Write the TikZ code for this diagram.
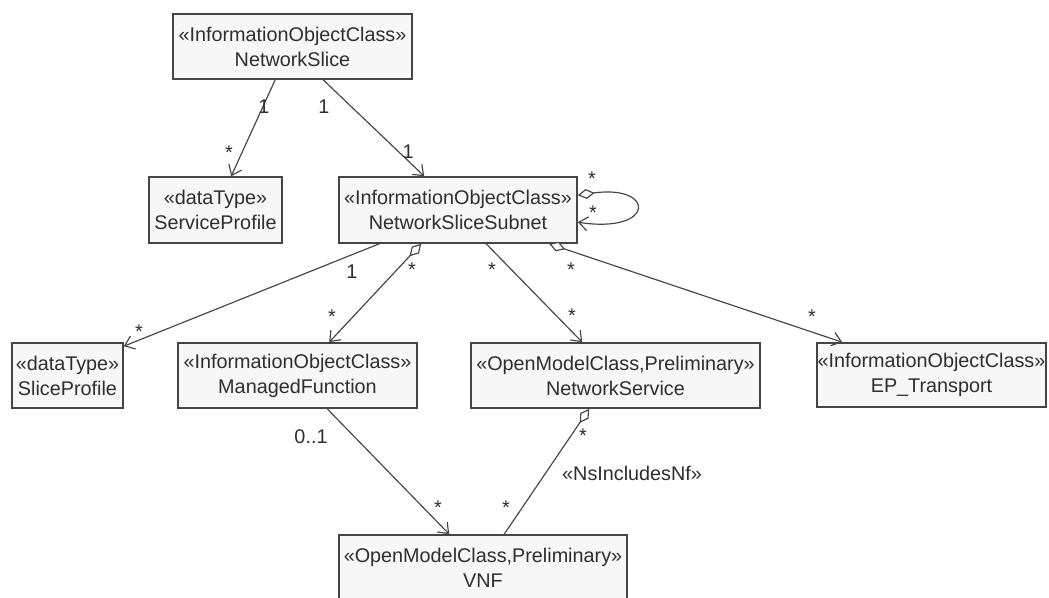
\documentclass[tikz,border=0pt]{standalone}
\usepackage{fontspec}
\setmainfont{Liberation Sans}
\usetikzlibrary{arrows.meta,calc}
\definecolor{boxc}{HTML}{454545}
\definecolor{boxf}{HTML}{F7F7F7}
\definecolor{txtc}{HTML}{2E2E2E}
\definecolor{edgec}{HTML}{444444}
\newcommand{\umlfont}{\fontsize{19.8}{25}\selectfont}
\begin{document}
\begin{tikzpicture}[x=1pt,y=-1pt,
  cls/.style={draw=boxc, fill=boxf, line width=1.6pt, inner sep=0pt, align=center, text=txtc, font=\umlfont},
  assoc/.style={draw=edgec, line width=1.15pt},
  nav/.style={-{Straight Barb[length=9pt,width=14pt]}},
  agg/.style={{Diamond[open,fill=white,length=17pt,width=10pt]}-{Straight Barb[length=9pt,width=14pt]}},
  aggonly/.style={{Diamond[open,fill=white,length=17pt,width=10pt]}-},
  mult/.style={font=\umlfont, text=txtc, inner sep=0pt, anchor=base}]
\useasboundingbox (0,0) rectangle (1049,597);
\fill[white] (0,0) rectangle (1049,597);
\clip (0,0) rectangle (1049,597);

% classes
\node[cls, minimum width=239pt, minimum height=65pt] (NS) at (292.5,46.5) {«InformationObjectClass»\\NetworkSlice};
\node[cls, minimum width=133pt, minimum height=66pt] (SP) at (215.5,210) {«dataType»\\ServiceProfile};
\node[cls, minimum width=238pt, minimum height=66pt] (NSS) at (458,210) {«InformationObjectClass»\\NetworkSliceSubnet};
\node[cls, minimum width=111pt, minimum height=65pt] (SlP) at (67.5,375.5) {«dataType»\\SliceProfile};
\node[cls, minimum width=239pt, minimum height=65pt] (MF) at (297.5,375.5) {«InformationObjectClass»\\ManagedFunction};
\node[cls, minimum width=289pt, minimum height=65pt] (NSv) at (615.5,375.5) {«OpenModelClass,Preliminary»\\NetworkService};
\node[cls, minimum width=229pt, minimum height=64pt] (EP) at (931.5,375) {«InformationObjectClass»\\EP\_Transport};
\node[cls, minimum width=288pt, minimum height=66pt] (VNF) at (483,568) {«OpenModelClass,Preliminary»\\VNF};

% connectors
\draw[assoc,nav] ([xshift=103pt]NS.south west) -- ([xshift=83pt]SP.north west);
\draw[assoc,nav] ([xshift=151pt]NS.south west) -- ([xshift=86pt]NSS.north west);
\draw[assoc,agg] ([yshift=-19pt]NSS.north east) .. controls +(78,-11) and +(78,12) .. ([yshift=-46pt]NSS.north east);
\draw[assoc,nav] ([xshift=41pt]NSS.south west) -- ([yshift=-4pt]SlP.north east);
\draw[assoc,agg] ([xshift=83pt]NSS.south west) -- ([xshift=152pt]MF.north west);
\draw[assoc,nav] ([xshift=148pt]NSS.south west) -- ([xshift=112pt]NSv.north west);
\draw[assoc,agg] ([xshift=211pt]NSS.south west) -- ([xshift=26pt]EP.north west);
\draw[assoc,nav] ([xshift=150pt]MF.south west) -- ([xshift=111pt]VNF.north west);
\draw[assoc,aggonly] ([xshift=119pt]NSv.south west) -- ([xshift=166pt]VNF.north west);

% multiplicities
\node[mult] (l1a) at (264,113) {1};
\node[mult] (l1b) at (229,159) {*};
\node[mult] (l2a) at (324,113) {1};
\node[mult] (l2b) at (408,158) {1};
\node[mult] (l3a) at (592,185) {*};
\node[mult] (l3b) at (593,219) {*};
\node[mult] (l4a) at (352,278) {1};
\node[mult] (l4b) at (139,338) {*};
\node[mult] (l5a) at (412,276) {*};
\node[mult] (l5b) at (332,323) {*};
\node[mult] (l6a) at (492,276) {*};
\node[mult] (l6b) at (572,322) {*};
\node[mult] (l7a) at (571,276) {*};
\node[mult] (l7b) at (812,323) {*};
\node[mult] (l8a) at (311,443) {0..1};
\node[mult] (l8b) at (438,514) {*};
\node[mult] (l9a) at (583,442) {*};
\node[mult] (l9b) at (506,514) {*};
\node[mult, anchor=base west] (l9c) at (562,480) {«NsIncludesNf»};
\end{tikzpicture}
\end{document}
